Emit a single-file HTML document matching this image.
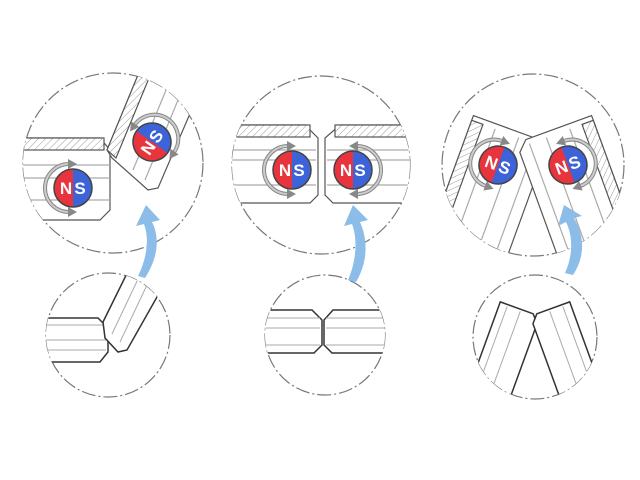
<!DOCTYPE html><html><head><style>body{margin:0;background:#fff}svg{display:block}</style></head><body>
<svg width="640" height="480" viewBox="0 0 640 480" xmlns="http://www.w3.org/2000/svg" font-family="Liberation Sans, sans-serif">
<defs>
<pattern id="h" width="5" height="5" patternUnits="userSpaceOnUse" patternTransform="rotate(45)"><rect width="5" height="5" fill="#fff"/><line x1="0" y1="0" x2="0" y2="5" stroke="#999" stroke-width="1"/></pattern>
<clipPath id="c1"><circle cx="113" cy="163" r="90"/></clipPath>
<clipPath id="c2"><circle cx="321" cy="165" r="89"/></clipPath>
<clipPath id="c3"><circle cx="533" cy="165" r="91"/></clipPath>
<clipPath id="s1"><circle cx="108" cy="335" r="62"/></clipPath>
<clipPath id="s2"><circle cx="325" cy="335" r="60"/></clipPath>
<clipPath id="s3"><circle cx="535" cy="337" r="62"/></clipPath>
<g id="disc"><circle r="19" fill="#e8343c"/><path d="M0,-19A19,19 0 0 1 0,19Z" fill="#3d63d8"/><circle r="19" fill="none" stroke="#444" stroke-width="1.5"/></g>
<g id="ring"><path d="M-4,-24 A24,24 0 0 0 -4,24" fill="none" stroke="#888" stroke-width="4"/><path d="M-4,-24 A24,24 0 0 0 -4,24" fill="none" stroke="#ccc" stroke-width="2"/>
<path d="M-5,-29 L4,-24 L-5,-19Z M-5,19 L4,24 L-5,29Z" fill="#888"/></g>
<g id="ns"><text x="-7" y="6" font-size="17" font-weight="bold" fill="#fff" text-anchor="middle">N</text><text x="7" y="6" font-size="17" font-weight="bold" fill="#fff" text-anchor="middle">S</text></g>
</defs>
<g fill="none" stroke="#777" stroke-width="1.2" stroke-dasharray="14,3,2,3">
<circle cx="113" cy="163" r="90"/><circle cx="321" cy="165" r="89"/><circle cx="533" cy="165" r="91"/>
<circle cx="108" cy="335" r="62"/><circle cx="325" cy="335" r="60"/><circle cx="535" cy="337" r="62"/>
</g>
<!-- panel1 big -->
<g clip-path="url(#c1)" stroke="#555" stroke-width="1.2">
<path d="M0,138 H100 L110,150 V210 L100,220 H0Z" fill="#fff"/>
<rect x="0" y="138" width="104" height="12" fill="url(#h)"/>
<path d="M0,165H110M0,178H110M0,200H110" stroke="#aaa"/>
<path d="M107,150 L145,58 L195,102 L158,188 L148,190 L112,158Z" fill="#fff"/>
<path d="M107,150 L145,58 L154,66 L116,158Z" fill="url(#h)"/>
<path d="M133,170 L171,78 M145,180 L183,88" stroke="#aaa"/>
</g>
<g transform="translate(73,188)"><use href="#ring"/><use href="#disc"/><use href="#ns"/></g>
<g transform="translate(152,142) rotate(-55)"><use href="#ring" transform="scale(-1,1)"/><use href="#disc"/><use href="#ns"/></g>
<!-- panel2 big -->
<g clip-path="url(#c2)" stroke="#555" stroke-width="1.2">
<path d="M200,125 H305 L318,138 V195 L310,203 H200Z" fill="#fff"/>
<path d="M450,125 H340 L325,138 V195 L333,203 H450Z" fill="#fff"/>
<rect x="200" y="125" width="110" height="12" fill="url(#h)"/><rect x="335" y="125" width="110" height="12" fill="url(#h)"/>
<path d="M200,150H316M200,160H316M200,185H316M327,150H450M327,160H450M327,185H450" stroke="#aaa"/>
</g>
<g transform="translate(292,170)"><use href="#ring"/><use href="#disc"/><use href="#ns"/></g>
<g transform="translate(353,170)"><use href="#ring" transform="scale(-1,1)"/><use href="#disc"/><use href="#ns"/></g>
<!-- panel3 big -->
<g clip-path="url(#c3)" stroke="#555" stroke-width="1.2">
<g transform="translate(505,175) rotate(20)"><path d="M-50,-45 H20 L30,-35 V200 H-50Z" fill="#fff"/><rect x="-50" y="-40" width="12" height="240" fill="url(#h)"/><path d="M-25,-40V200M0,-40V200M18,-40V200" stroke="#aaa"/></g>
<g transform="translate(560,175) rotate(-20)"><path d="M50,-45 H-20 L-30,-35 V200 H50Z" fill="#fff"/><rect x="38" y="-40" width="12" height="240" fill="url(#h)"/><path d="M25,-40V200M0,-40V200M-18,-40V200" stroke="#aaa"/></g>
</g>
<g transform="translate(498,165) rotate(20)"><use href="#ring"/><use href="#disc"/><use href="#ns"/></g>
<g transform="translate(568,165) rotate(-20)"><use href="#ring" transform="scale(-1,1)"/><use href="#disc"/><use href="#ns"/></g>
<!-- small circles -->
<g clip-path="url(#s1)" stroke="#333" stroke-width="1.5">
<path d="M30,318 H98 L108,328 V352 L100,362 H30Z" fill="#fff"/><path d="M30,325H106M30,340H106M30,350H106" stroke="#aaa" stroke-width="1"/>
<path d="M103,322 L139,249 L170,274 L127,350 L118,352 L105,338Z" fill="#fff"/>
<path d="M112,334 L148,258 M120,342 L156,266" stroke="#aaa" stroke-width="1"/>
</g>
<g clip-path="url(#s2)" stroke="#333" stroke-width="1.5">
<path d="M255,310 H312 L322,320 V345 L314,353 H255Z" fill="#fff"/><path d="M395,310 H333 L324,320 V345 L332,353 H395Z" fill="#fff"/>
<path d="M255,318H320M255,328H320M255,345H320M326,318H395M326,328H395M326,345H395" stroke="#aaa" stroke-width="1"/>
</g>
<g clip-path="url(#s3)" stroke="#333" stroke-width="1.5">
<g transform="translate(515,320) rotate(20)"><path d="M-20,-12 H15 L22,-4 V100 H-20Z" fill="#fff"/><path d="M-12,-10V100M2,-10V100" stroke="#aaa" stroke-width="1"/></g>
<g transform="translate(555,320) rotate(-20)"><path d="M20,-12 H-15 L-22,-4 V100 H20Z" fill="#fff"/><path d="M12,-10V100M-2,-10V100" stroke="#aaa" stroke-width="1"/></g>
</g>
<!-- blue arrows -->
<g fill="#8cbde8">
<path d="M145,278 C158,258 160,238 152,222 L160,220 L146,205 L136,226 L144,224 C150,240 146,260 138,276Z"/>
<path d="M356,282 C368,262 368,240 360,222 L368,220 L353,205 L344,226 L352,224 C358,240 356,262 348,280Z"/>
<path d="M573,275 C586,255 584,235 574,218 L582,216 L564,205 L558,226 L566,222 C574,238 572,258 565,273Z"/>
</g>
</svg>
</body></html>
